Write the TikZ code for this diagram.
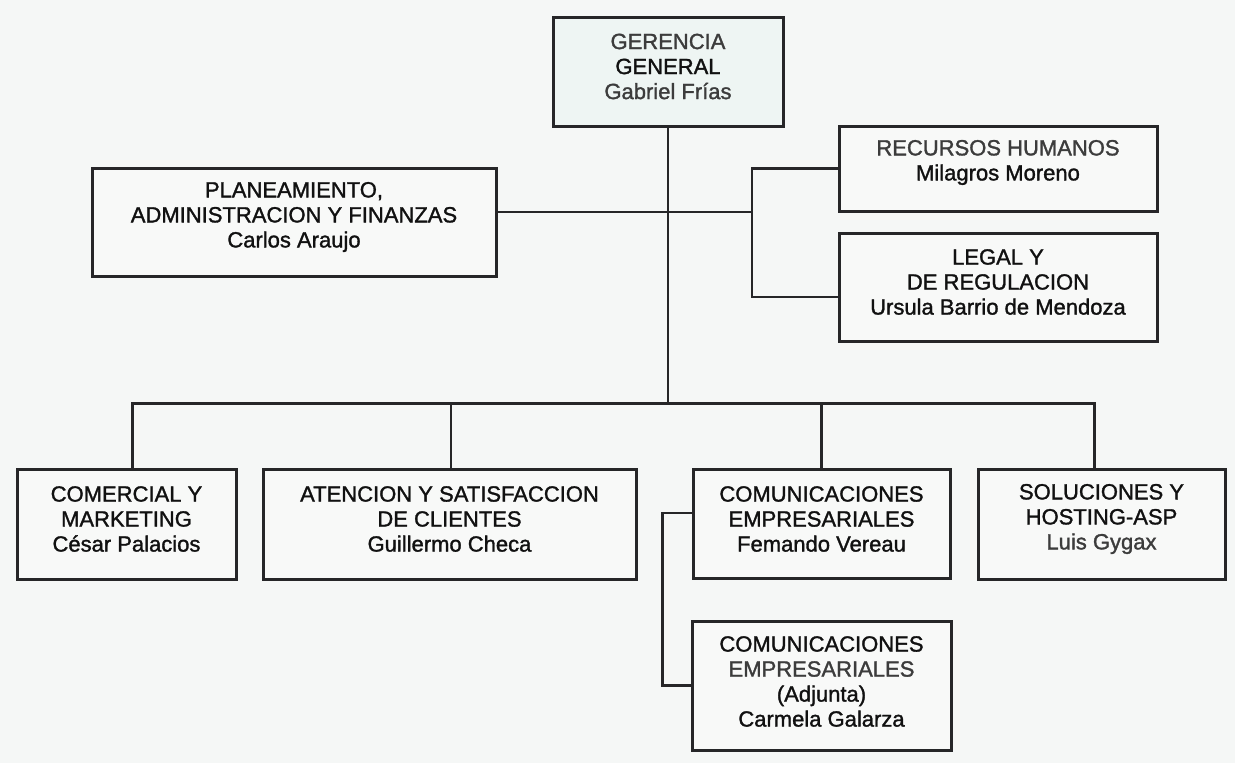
\documentclass[tikz,border=0pt]{standalone}
\usepackage{fontspec}
\setmainfont{Liberation Sans}
\newfontfamily\orgfont[FakeBold=1.4]{Liberation Sans}
\definecolor{bgc}{HTML}{F5F7F6}
\definecolor{boxc}{HTML}{F8F9F8}
\definecolor{gerc}{HTML}{EEF5F3}
\definecolor{linec}{HTML}{262628}
\definecolor{txtc}{HTML}{111111}
\definecolor{lightt}{HTML}{3C3C3C}
\tikzset{
  orgbox/.style={draw=linec, line width=3pt, fill=boxc, inner sep=0pt},
  orgtxt/.style={align=center, text=txtc, font=\orgfont\fontsize{22}{25}\selectfont, inner sep=0pt},
  conn/.style={draw=linec, line width=2.8pt}
}
\newcommand{\lt}[1]{\textcolor{lightt}{#1}}
\begin{document}
\begin{tikzpicture}[x=1pt,y=-1pt]
\fill[bgc] (0,0) rectangle (1235,763);
\useasboundingbox (0,0) rectangle (1235,763);

% boxes
\node[orgbox, fill=gerc, minimum width=230pt, minimum height=109pt] (g) at (668,71.5) {};
\node[orgbox, minimum width=404pt, minimum height=108pt] (p) at (294,222) {};
\node[orgbox, minimum width=318pt, minimum height=85pt] (rh) at (998,168.5) {};
\node[orgbox, minimum width=318pt, minimum height=108pt] (lg) at (998,287) {};
\node[orgbox, minimum width=219pt, minimum height=110pt] (cm) at (126.5,524) {};
\node[orgbox, minimum width=373pt, minimum height=110pt] (at) at (449.5,524) {};
\node[orgbox, minimum width=257pt, minimum height=109pt] (cc) at (821.5,524) {};
\node[orgbox, minimum width=247pt, minimum height=110pt] (sl) at (1101.5,524) {};
\node[orgbox, minimum width=259pt, minimum height=129pt] (ad) at (821.5,685.5) {};

% texts
\node[orgtxt] (gt) at ([yshift=5pt]g.center) {\lt{GERENCIA}\\GENERAL\\\lt{Gabriel Frías}};
\node[orgtxt] (pt) at ([yshift=5pt]p.center) {PLANEAMIENTO,\\ADMINISTRACION Y FINANZAS\\Carlos Araujo};
\node[orgtxt] (rht) at ([yshift=6pt]rh.center) {\lt{RECURSOS HUMANOS}\\Milagros Moreno};
\node[orgtxt] (lgt) at ([yshift=5pt]lg.center) {LEGAL Y\\DE REGULACION\\Ursula Barrio de Mendoza};
\node[orgtxt] (cmt) at ([yshift=5pt]cm.center) {COMERCIAL Y\\MARKETING\\César Palacios};
\node[orgtxt] (att) at ([yshift=5pt]at.center) {ATENCION Y SATISFACCION\\DE CLIENTES\\Guillermo Checa};
\node[orgtxt] (cct) at ([yshift=5pt]cc.center) {COMUNICACIONES\\EMPRESARIALES\\Femando Vereau};
\node[orgtxt] (slt) at ([yshift=5pt]sl.center) {SOLUCIONES Y\\HOSTING-ASP\\\lt{Luis Gygax}};
\node[orgtxt] (adt) at ([yshift=4pt]ad.center) {COMUNICACIONES\\\lt{EMPRESARIALES}\\(Adjunta)\\Carmela Galarza};

% junctions
\coordinate (rb) at (752,212);
\coordinate (bus) at (666,405);

% connectors
\draw[conn] (g.south) -- (g.south |- bus);
\draw[conn] ([yshift=10pt]p.east) -- (rb);
\draw[conn] (rh.west) -| (rb) |- ([yshift=-10pt]lg.west);
\draw[conn] ([xshift=6pt]cm.north) -- ++(0,-64) -| ([xshift=-7pt]sl.north);
\draw[conn] ([xshift=1.5pt]at.north) -- ([xshift=1.5pt]at.north |- bus);
\draw[conn] (cc.north) -- (cc.north |- bus);
\draw[conn] ([yshift=11pt]cc.west) -- ++(-29,0) |- (ad.west);
\end{tikzpicture}
\end{document}
